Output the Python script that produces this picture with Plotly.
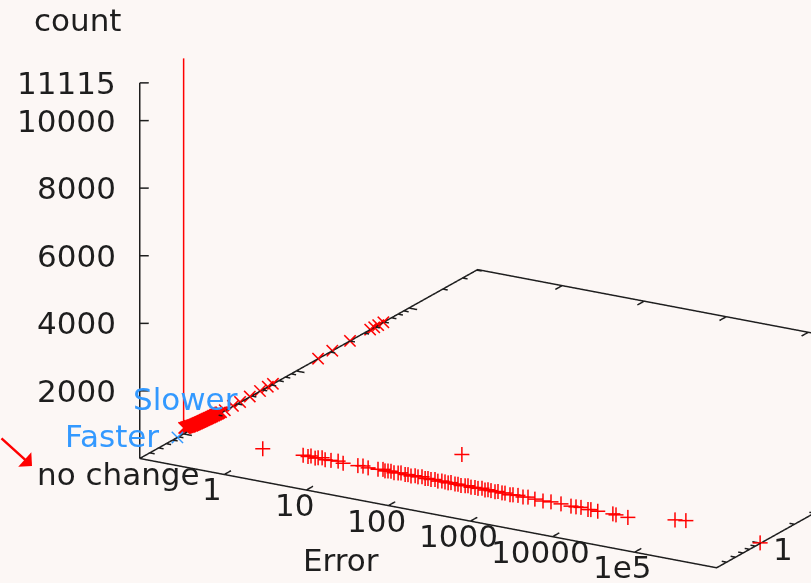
import math
import plotly.graph_objects as go

# ---------------- data ----------------
# "+" points: error value, count   (speed ratio = 1, i.e. no change)
plus_error = [0.86, 2.67, 3.06, 3.33, 3.73, 4.06, 4.54, 4.94, 5.84, 7.11, 8.18, 12.4, 14.3, 16.5,
              21.8, 25.1, 26.5, 28.9, 31.4, 34.2, 38.3, 41.6, 46.6, 50.6, 55.1, 61.7, 67.0, 75.0,
              81.7, 88.7, 96.6, 108, 117, 131, 143, 156, 169, 189, 206, 224, 229, 251, 272, 296,
              332, 361, 404, 439, 477, 519, 581, 632, 706, 769, 885, 962, 1107, 1274, 1466, 1782,
              2234, 2793, 3698, 4898, 5636, 6486, 7889, 8570, 10400, 15900, 17300, 24200, 90600,
              123000, 990000]
plus_count = [5, 40, 30, 60, 20, 50, 70, 30, 45, 60, 25, 40, 55, 30, 45, 70, 35, 50, 60, 30,
              45, 65, 40, 55, 30, 60, 45, 70, 35, 50, 40, 60, 30, 55, 45, 35, 60, 40, 50, 30, 950,
              45, 60, 35, 50, 40, 65, 30, 55, 45, 35, 60, 40, 50, 30, 45, 55, 35, 60, 40, 30, 50,
              45, 35, 40, 55, 30, 45, 35, 40, 30, 20, 210, 250, 10]
plus_ratio = 1.0

# "x" points: error 0 (drawn at the axis minimum), speed ratio, count
slower_ratio = [1.01, 1.03, 1.045, 1.06, 1.075, 1.09, 1.105, 1.12, 1.135, 1.15, 1.17, 1.19,
                1.21, 1.23, 1.25, 1.27, 1.29, 1.31, 1.335, 1.36, 1.385, 1.41, 1.435, 1.46,
                1.49, 1.52, 1.55, 1.58, 1.61, 1.64, 1.675, 1.71, 1.745, 1.78, 1.82, 1.86,
                1.9, 1.94, 1.985, 2.03, 2.08, 2.15, 2.32, 2.74, 3.17, 3.87, 4.76,
                5.59, 6.21, 15.6, 20.9, 30.0, 45.3, 49.2, 53.4, 59.3]
slower_count = [170, 150, 160, 140, 150, 130, 140, 120, 130, 110, 120, 100, 110, 95, 100, 90,
                95, 85, 90, 80, 85, 75, 80, 70, 75, 65, 70, 60, 65, 55, 60, 50, 55, 45, 50, 40,
                45, 35, 40, 30, 35, 25, 20, 15, 12, 10, 8, 6, 5, 4, 3, 3, 2, 2, 2, 1]
faster_ratio = [0.88]
faster_count = [0]
nochange_ratio = [1.0]
nochange_count = [11115]

x_ticks = [1, 10, 100, 1000, 10000, 100000]
x_ticklabels = ["1", "10", "100", "1000", "10000", "1e5"]
z_ticks = [2000, 4000, 6000, 8000, 10000, 11115]
z_ticklabels = ["2000", "4000", "6000", "8000", "10000", "11115"]
y_ticks = [1]
y_ticklabels = ["1"]

# ---------------- axes / view ----------------
XL = (-1.03, 6.0)      # log10 error range (frame)
YL = (-0.39, 2.61)     # log10 ratio range (frame)
ZR = (0, 11115)        # count range (frame)
XMIN, XMAX = 10 ** XL[0], 10 ** XL[1]
YMIN, YMAX = 10 ** YL[0], 10 ** YL[1]
# scene ranges (larger than the frame, chosen so the frame sits where the original puts it)
SXR = (-5.9, 6.2)
SYR = (-0.49, 2.71)
SZR = (-6035, 11415)
ASPECT = (1.0, 1.006, 0.595)   # frame proportions
ZOOM = 2.29

# screen-space helpers (decades / counts per pixel)
AX, BY, CZ = 0.0091, 0.00225, 29.64

RED = "#ff0000"
BLUE = "#3399ff"
INK = "#1e1e1e"
BG = "#fcf7f5"
FONT = "DejaVu Sans"
FS = 31
LW = 3


def plus_marks(xs, ys, zs, h):
    X, Y, Z = [], [], []
    for x, y, z in zip(xs, ys, zs):
        X += [x * 10 ** (-AX * h), x * 10 ** (AX * h), None, x, x, None]
        Y += [y * 10 ** (-BY * h), y * 10 ** (BY * h), None, y, y, None]
        Z += [z, z, None, z - CZ * h, z + CZ * h, None]
    return X, Y, Z


def cross_marks(xs, ys, zs, h):
    d = h / math.sqrt(2)
    X, Y, Z = [], [], []
    for x, y, z in zip(xs, ys, zs):
        xa, xb = x * 10 ** (-AX * d), x * 10 ** (AX * d)
        ya, yb = y * 10 ** (-BY * d), y * 10 ** (BY * d)
        X += [xa, xb, None, xa, xb, None]
        Y += [ya, yb, None, ya, yb, None]
        Z += [z + CZ * d, z - CZ * d, None, z - CZ * d, z + CZ * d, None]
    return X, Y, Z


fig = go.Figure()

# frame
fig.add_trace(go.Scatter3d(
    x=[XMIN, XMAX, XMAX, XMIN, XMIN, None, XMIN, XMIN],
    y=[YMIN, YMIN, YMAX, YMAX, YMIN, None, YMIN, YMIN],
    z=[0, 0, 0, 0, 0, None, 0, ZR[1]],
    mode="lines", line=dict(color=INK, width=LW), hoverinfo="skip", showlegend=False))

# ticks
tx, ty, tz = [], [], []
for v in x_ticks:
    tx += [v, v, None, v, v, None]
    ty += [YMIN, YMIN * 10 ** 0.06, None, YMAX, YMAX * 10 ** -0.06, None]
    tz += [0, 0, None, 0, 0, None]
for v in z_ticks:
    tx += [XMIN, XMIN * 10 ** (AX * 9), None]
    ty += [YMIN, YMIN * 10 ** (BY * 9), None]
    tz += [v, v, None]
dec = 0.1
while dec < YMAX:
    for k in range(1, 10):
        v = dec * k
        if YMIN <= v <= YMAX:
            ln = 0.1 if k == 1 else 0.06
            tx += [XMIN, XMIN * 10 ** ln, None, XMAX, XMAX * 10 ** -ln, None]
            ty += [v, v, None, v, v, None]
            tz += [0, 0, None, 0, 0, None]
    dec *= 10
fig.add_trace(go.Scatter3d(x=tx, y=ty, z=tz, mode="lines",
                           line=dict(color=INK, width=LW), hoverinfo="skip", showlegend=False))

# no-change impulse
fig.add_trace(go.Scatter3d(x=[XMIN, XMIN], y=[nochange_ratio[0]] * 2, z=[0, nochange_count[0]],
                           mode="lines", line=dict(color=RED, width=LW), showlegend=False))

# slower (x)
sx, sy, sz = cross_marks([XMIN] * len(slower_ratio), slower_ratio, slower_count, 8)
fig.add_trace(go.Scatter3d(x=sx, y=sy, z=sz, mode="lines", line=dict(color=RED, width=LW),
                           showlegend=False))
# plus
px_, py_, pz_ = plus_marks(plus_error, [plus_ratio] * len(plus_error), plus_count, 7.5)
fig.add_trace(go.Scatter3d(x=px_, y=py_, z=pz_, mode="lines", line=dict(color=RED, width=LW),
                           showlegend=False))
# faster
fx, fy, fz = cross_marks([XMIN] * len(faster_ratio), faster_ratio, faster_count, 8)
fig.add_trace(go.Scatter3d(x=fx, y=fy, z=fz, mode="lines", line=dict(color=BLUE, width=LW),
                           showlegend=False))

tfont = dict(family=FONT, size=FS, color=INK)
ann = []
for v, t in zip(z_ticks, z_ticklabels):
    ann.append(dict(x=XL[0], y=YL[0], z=v, text=t, showarrow=False, xanchor="right",
                    yanchor="middle", xshift=-22, font=tfont))
for v, t in zip(x_ticks, x_ticklabels):
    ann.append(dict(x=math.log10(v), y=YL[0], z=0, text=t, showarrow=False, xanchor="center",
                    yanchor="middle", xshift=-12, yshift=-15, font=tfont))
for v, t in zip(y_ticks, y_ticklabels):
    ann.append(dict(x=XL[1], y=math.log10(v), z=0, text=t, showarrow=False, xanchor="center",
                    yanchor="middle", xshift=22, yshift=-6, font=tfont))

W, H = 811, 583


def px(x, y):
    return x / W, 1 - y / H


paper_ann = []
for text, (x, y), anchor, col in [("count", (77.5, 20), "center", INK),
                                  ("Error", (340.5, 560), "center", INK),
                                  ("no change", (35, 474), "left", INK),
                                  ("Faster", (63, 436), "left", BLUE),
                                  ("Slower", (131, 399), "left", BLUE)]:
    ax_, ay_ = px(x, y)
    paper_ann.append(dict(xref="paper", yref="paper", x=ax_, y=ay_, text=text, showarrow=False,
                          xanchor=anchor, yanchor="middle",
                          font=dict(family=FONT, size=FS, color=col)))
tipx, tipy = px(32, 466)
paper_ann.append(dict(xref="paper", yref="paper", x=tipx, y=tipy, text="", showarrow=True,
                      axref="pixel", ayref="pixel", ax=-52, ay=-29, arrowcolor=RED,
                      arrowwidth=2.5, arrowhead=1, arrowsize=1.3))

d = (0.4757, -0.8171, 0.3254)
R = 2.0
ax_common = dict(showgrid=False, zeroline=False, showline=False, showticklabels=False,
                 ticks="", showbackground=False, showspikes=False, title=dict(text=""))
fig.update_layout(
    width=W, height=H, margin=dict(l=0, r=0, t=0, b=0),
    paper_bgcolor=BG, plot_bgcolor=BG, showlegend=False, hovermode=False,
    annotations=paper_ann,
    scene=dict(
        domain=dict(x=[0, 1], y=[0, 1]),
        bgcolor=BG,
        xaxis=dict(type="log", range=list(SXR), **ax_common),
        yaxis=dict(type="log", range=list(SYR), **ax_common),
        zaxis=dict(range=list(SZR), **ax_common),
        aspectmode="manual",
        aspectratio=dict(x=ZOOM * ASPECT[0] * (SXR[1] - SXR[0]) / (XL[1] - XL[0]),
                         y=ZOOM * ASPECT[1] * (SYR[1] - SYR[0]) / (YL[1] - YL[0]),
                         z=ZOOM * ASPECT[2] * (SZR[1] - SZR[0]) / (ZR[1] - ZR[0])),
        camera=dict(projection=dict(type="orthographic"), up=dict(x=0, y=0, z=1),
                    center=dict(x=0, y=0, z=0),
                    eye=dict(x=R * d[0], y=R * d[1], z=R * d[2])),
        annotations=ann,
    ),
)
fig.write_html("out.html", config={"displayModeBar": False},
               post_script="document.body.style.margin='0';document.body.style.background='%s';" % BG)
